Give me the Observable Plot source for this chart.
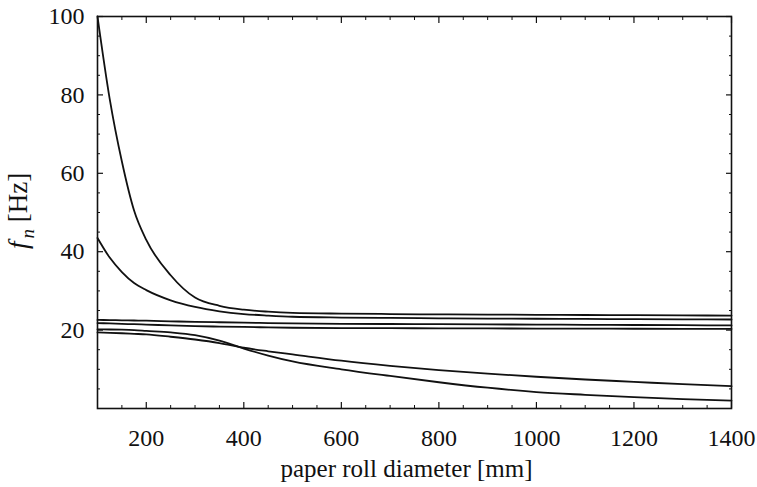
<!DOCTYPE html>
<html>
<head>
<meta charset="utf-8">
<script src="https://cdn.jsdelivr.net/npm/d3@7"></script>
<script src="https://cdn.jsdelivr.net/npm/@observablehq/plot@0.6"></script>
<style>
  html, body { margin: 0; padding: 0; background: #fff; }
  #chart { width: 757px; height: 487px; }
  #chart svg, #chart svg text, #chart svg tspan {
    font-family: "Liberation Serif", "Times New Roman", Tinos, serif !important;
  }
</style>
</head>
<body>
<div id="chart"></div>
<script>
// paper roll diameter [mm]
const diameter = [100, 125, 150, 175, 200, 250, 300, 350, 400, 450, 500, 600, 700, 800, 900, 1000, 1100, 1200, 1300, 1400];

// natural frequencies f_n [Hz]
const modeA = [100, 79, 63, 50.5, 43, 34, 28.3, 26.2, 25.2, 24.7, 24.4, 24.2, 24.1, 24.0, 23.95, 23.9, 23.85, 23.8, 23.75, 23.7];
const modeB = [43.5, 38.5, 34.8, 32, 30.2, 27.6, 25.9, 24.8, 24.1, 23.7, 23.4, 23.2, 23.1, 23.0, 22.95, 22.9, 22.85, 22.8, 22.75, 22.7];
const modeC = [22.6, 22.55, 22.5, 22.45, 22.4, 22.25, 22.1, 22.0, 21.9, 21.8, 21.7, 21.6, 21.55, 21.5, 21.45, 21.4, 21.35, 21.3, 21.25, 21.2];
const modeD = [21.8, 21.7, 21.6, 21.5, 21.4, 21.2, 21.0, 20.9, 20.8, 20.7, 20.6, 20.5, 20.48, 20.45, 20.42, 20.4, 20.38, 20.35, 20.32, 20.3];
const modeF = [20.2, 20.15, 20.1, 20.0, 19.8, 19.4, 18.7, 17.3, 15.3, 13.5, 12.0, 10.0, 8.3, 6.7, 5.3, 4.2, 3.5, 2.9, 2.4, 2.0];
const modeG = [19.4, 19.3, 19.2, 19.05, 18.9, 18.3, 17.6, 16.7, 15.5, 14.6, 13.8, 12.2, 10.9, 9.8, 8.9, 8.1, 7.4, 6.8, 6.2, 5.7];

const xTicks = [200, 400, 600, 800, 1000, 1200, 1400];
const xMinorTicks = [150, 250, 300, 350, 450, 500, 550, 650, 700, 750, 850, 900, 950, 1050, 1100, 1150, 1250, 1300, 1350];
const yTicks = [20, 40, 60, 80, 100];
const yMinorTicks = [5, 10, 15, 25, 30, 35, 45, 50, 55, 65, 70, 75, 85, 90, 95];

const series = [["A", modeA], ["B", modeB], ["C", modeC], ["D", modeD], ["F", modeF], ["G", modeG]];
const table = series.flatMap(([mode, values]) =>
  values.map((f, i) => ({mode, d: diameter[i], f}))
);

const ink = "#111";
const font = "'Liberation Serif', 'Times New Roman', Tinos, serif";
const plain = d => String(d);

const chart = Plot.plot({
  width: 757,
  height: 487,
  marginLeft: 97,
  marginRight: 26,
  marginTop: 16,
  marginBottom: 79,
  style: {fontFamily: font, fontSize: "24px", color: ink, background: "#fff"},
  x: {domain: [100, 1400]},
  y: {domain: [0, 100]},
  marks: [
    // tick labels
    Plot.axisX({ticks: xTicks, tickSize: 0, tickPadding: 20, tickFormat: plain, label: null, fontSize: 24}),
    Plot.axisY({ticks: yTicks, tickSize: 0, tickPadding: 13, tickFormat: plain, label: null, fontSize: 24}),
    // inward major ticks on all four sides
    Plot.axisX({ticks: xTicks, anchor: "bottom", tickSize: -6, tickFormat: () => "", label: null, strokeWidth: 1.2}),
    Plot.axisX({ticks: xTicks, anchor: "top", tickSize: -6, tickFormat: () => "", label: null, strokeWidth: 1.2}),
    Plot.axisY({ticks: yTicks, anchor: "left", tickSize: -6, tickFormat: () => "", label: null, strokeWidth: 1.2}),
    Plot.axisY({ticks: yTicks, anchor: "right", tickSize: -6, tickFormat: () => "", label: null, strokeWidth: 1.2}),
    // inward minor ticks
    Plot.axisX({ticks: xMinorTicks, anchor: "bottom", tickSize: -3, tickFormat: () => "", label: null, strokeWidth: 1}),
    Plot.axisX({ticks: xMinorTicks, anchor: "top", tickSize: -3, tickFormat: () => "", label: null, strokeWidth: 1}),
    Plot.axisY({ticks: yMinorTicks, anchor: "left", tickSize: -3, tickFormat: () => "", label: null, strokeWidth: 1}),
    Plot.axisY({ticks: yMinorTicks, anchor: "right", tickSize: -3, tickFormat: () => "", label: null, strokeWidth: 1}),
    Plot.line(table, {x: "d", y: "f", z: "mode", stroke: ink, strokeWidth: 1.8, curve: "monotone-x"}),
    Plot.frame({stroke: ink, strokeWidth: 1.6}),
    Plot.text(["paper roll diameter [mm]"], {frameAnchor: "bottom", dy: 68, dx: -8, fontSize: 25, fill: ink})
  ]
});

document.getElementById("chart").appendChild(chart);

// y-axis label with italic f and subscript n
const svg = d3.select(chart);
const ylab = svg.append("text")
  .attr("transform", "translate(27,211) rotate(-90)")
  .attr("text-anchor", "middle")
  .attr("font-size", 27)
  .attr("fill", ink);
ylab.append("tspan").attr("font-style", "italic").text("f");
ylab.append("tspan").attr("font-style", "italic").attr("font-size", 19).attr("dy", 7).attr("dx", 3).text("n");
ylab.append("tspan").attr("dy", -7).text(" [Hz]");
</script>
</body>
</html>
